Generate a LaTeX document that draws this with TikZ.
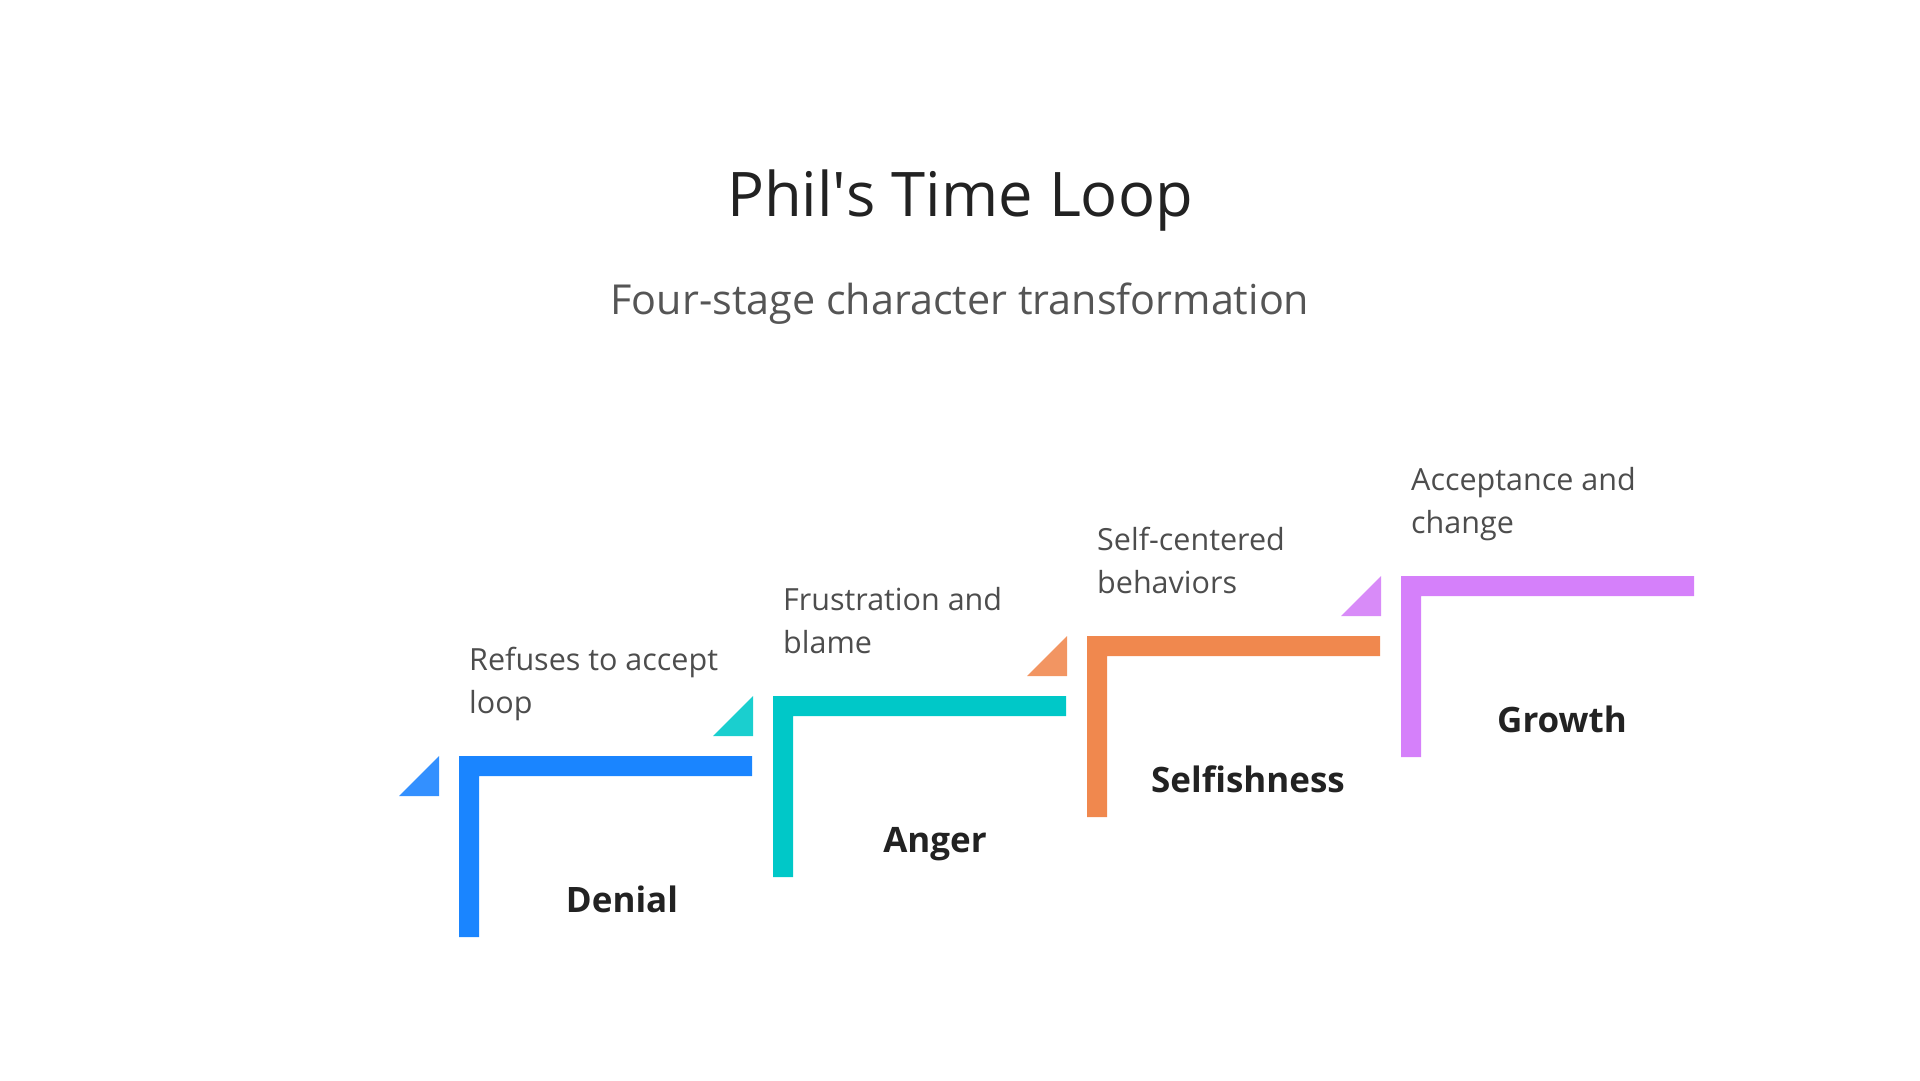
\documentclass[tikz,border=0pt]{standalone}
\usepackage{fontspec}
\setmainfont{Open Sans}
\usepackage{tikz}

\definecolor{titlec}{HTML}{222222}
\definecolor{subc}{HTML}{555555}
\definecolor{descc}{HTML}{4D4D4D}
\definecolor{denialc}{HTML}{1A85FF}
\definecolor{denialt}{HTML}{3390FF}
\definecolor{angerc}{HTML}{00C8C8}
\definecolor{angert}{HTML}{1ACFCF}
\definecolor{selfc}{HTML}{F0884E}
\definecolor{selft}{HTML}{F29562}
\definecolor{growthc}{HTML}{D580FA}
\definecolor{growtht}{HTML}{D88BF8}

\begin{document}
\begin{tikzpicture}[x=1pt, y=-1pt,
  desc/.style={anchor=base west, align=left, inner sep=0pt, text=descc, font=\fontsize{30.5}{43}\selectfont},
  stage/.style={anchor=base, inner sep=0pt, text=titlec, font=\fontsize{35}{43}\selectfont\bfseries}]
\useasboundingbox (0,0) rectangle (1920,1080);

\node[anchor=base, text=titlec, font=\fontsize{61.5}{70}\selectfont] (title) at (960,216) {Phil\textquotesingle s Time Loop};
\node[anchor=base, text=subc, font=\fontsize{41.3}{46}\selectfont] (sub) at (960,314) {Four-stage character transformation};

% denial
\fill[denialc] (459,937) -- (459,756) -- (752,756) -- (752,776) -- (479,776) -- (479,937) -- cycle;
\fill[denialt] (399,796) -- (439,796) -- (439,756) -- cycle;
\node[desc] (d1) at (469,713) {Refuses to accept\\loop};
\node[stage] (denial) at (622,912) {Denial};

% anger
\fill[angerc] (773,877) -- (773,696) -- (1066,696) -- (1066,716) -- (793,716) -- (793,877) -- cycle;
\fill[angert] (713,736) -- (753,736) -- (753,696) -- cycle;
\node[desc] (d2) at (783,653) {Frustration and\\blame};
\node[stage] (anger) at (935,852) {Anger};

% selfishness
\fill[selfc] (1087,817) -- (1087,636) -- (1380,636) -- (1380,656) -- (1107,656) -- (1107,817) -- cycle;
\fill[selft] (1027,676) -- (1067,676) -- (1067,636) -- cycle;
\node[desc] (d3) at (1097,593) {Self-centered\\behaviors};
\node[stage] (selfish) at (1248,792) {Selfishness};

% growth
\fill[growthc] (1401,757) -- (1401,576) -- (1694,576) -- (1694,596) -- (1421,596) -- (1421,757) -- cycle;
\fill[growtht] (1341,616) -- (1381,616) -- (1381,576) -- cycle;
\node[desc] (d4) at (1411,533) {Acceptance and\\change};
\node[stage] (growth) at (1562,732) {Growth};
\end{tikzpicture}
\end{document}
